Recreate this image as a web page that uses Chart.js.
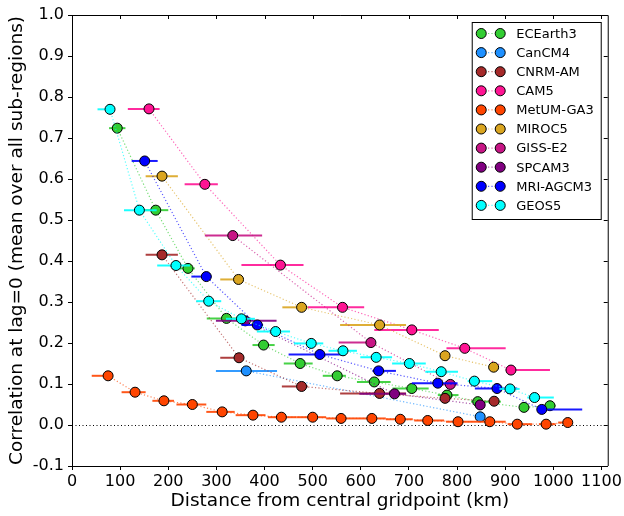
<!DOCTYPE html>
<html>
<head>
<meta charset="utf-8">
<script src="https://cdn.jsdelivr.net/npm/chart.js@4"></script>
<style>
  body { margin: 0; background: #fff; }
  canvas { display: block; }
</style>
</head>
<body>
<canvas id="myChart" width="624" height="516"></canvas>
<script>
const ctx = document.getElementById('myChart').getContext('2d');

const models = ['ECEarth3', 'CanCM4', 'CNRM-AM', 'CAM5', 'MetUM-GA3', 'MIROC5', 'GISS-E2', 'SPCAM3', 'MRI-AGCM3', 'GEOS5'];
const colors = ['#32cd32', '#1e90ff', '#a52a2a', '#ff1493', '#ff4500', '#daa520', '#c71585', '#800080', '#0000ff', '#00ffff'];

const xTicks = [0, 100, 200, 300, 400, 500, 600, 700, 800, 900, 1000, 1100];
const yTicks = [-0.1, 0.0, 0.1, 0.2, 0.3, 0.4, 0.5, 0.6, 0.7, 0.8, 0.9, 1.0];

// distancia media (km), correlacion, y rango de distancias de cada bin
const ecearthDist = [94, 174, 241, 321, 398, 474, 551, 628, 706, 779, 843, 939, 993];
const ecearthCorr = [0.724, 0.524, 0.382, 0.260, 0.195, 0.150, 0.120, 0.105, 0.089, 0.073, 0.057, 0.043, 0.047];
const ecearthLo = [77, 150, 215, 280, 375, 440, 521, 592, 666, 760, 829, 930, 980];
const ecearthHi = [111, 200, 255, 362, 421, 500, 569, 662, 741, 803, 891, 950, 1005];

const cancmDist = [362, 848];
const cancmCorr = [0.132, 0.020];
const cancmLo = [299, 838];
const cancmHi = [426, 858];

const cnrmDist = [187, 347, 477, 639, 775, 877];
const cnrmCorr = [0.415, 0.164, 0.094, 0.077, 0.065, 0.058];
const cnrmLo = [153, 308, 436, 557, 765, 867];
const cnrmHi = [220, 350, 490, 694, 785, 887];

const cam5Dist = [160, 276, 433, 562, 706, 816, 912];
const cam5Corr = [0.771, 0.587, 0.390, 0.287, 0.232, 0.187, 0.134];
const cam5Lo = [116, 234, 352, 490, 628, 778, 901];
const cam5Hi = [182, 303, 481, 607, 762, 901, 993];

const metumDist = [75, 131, 191, 250, 312, 376, 435, 500, 559, 623, 682, 739, 802, 868, 925, 985, 1030];
const metumCorr = [0.120, 0.080, 0.059, 0.050, 0.032, 0.024, 0.019, 0.019, 0.016, 0.016, 0.014, 0.011, 0.008, 0.008, 0.002, 0.002, 0.006];
const metumLo = [41, 103, 167, 217, 279, 340, 407, 466, 528, 590, 652, 711, 777, 839, 905, 970, 1010];
const metumHi = [82, 153, 212, 279, 338, 402, 466, 528, 590, 652, 708, 773, 839, 901, 956, 1005, 1040];

const mirocDist = [187, 346, 477, 639, 775, 876];
const mirocCorr = [0.607, 0.355, 0.287, 0.244, 0.169, 0.141];
const mirocLo = [153, 308, 437, 557, 765, 866];
const mirocHi = [220, 350, 490, 694, 785, 886];

const gissDist = [334, 621, 786];
const gissCorr = [0.462, 0.201, 0.099];
const gissLo = [276, 554, 770];
const gissHi = [395, 625, 800];

const spcamDist = [360, 670, 848];
const spcamCorr = [0.254, 0.076, 0.049];
const spcamLo = [299, 597, 838];
const spcamHi = [425, 694, 858];

const mriDist = [151, 279, 385, 515, 637, 760, 883, 976];
const mriCorr = [0.644, 0.362, 0.244, 0.172, 0.132, 0.102, 0.089, 0.038];
const mriLo = [124, 248, 352, 450, 624, 706, 837, 976];
const mriHi = [178, 290, 397, 566, 673, 801, 925, 1060];

const geosDist = [79, 140, 216, 284, 352, 423, 497, 563, 632, 701, 767, 836, 910, 961];
const geosCorr = [0.770, 0.524, 0.389, 0.302, 0.259, 0.228, 0.199, 0.181, 0.165, 0.150, 0.130, 0.107, 0.088, 0.067];
const geosLo = [53, 108, 177, 258, 320, 384, 461, 533, 599, 665, 734, 822, 888, 946];
const geosHi = [89, 176, 245, 310, 380, 453, 522, 592, 665, 735, 802, 873, 930, 1001];

const allDist = [ecearthDist, cancmDist, cnrmDist, cam5Dist, metumDist, mirocDist, gissDist, spcamDist, mriDist, geosDist];
const allCorr = [ecearthCorr, cancmCorr, cnrmCorr, cam5Corr, metumCorr, mirocCorr, gissCorr, spcamCorr, mriCorr, geosCorr];
const allLo = [ecearthLo, cancmLo, cnrmLo, cam5Lo, metumLo, mirocLo, gissLo, spcamLo, mriLo, geosLo];
const allHi = [ecearthHi, cancmHi, cnrmHi, cam5Hi, metumHi, mirocHi, gissHi, spcamHi, mriHi, geosHi];

const FONT = '"DejaVu Sans", sans-serif';

function withAlpha(hex, a) {
    const n = parseInt(hex.slice(1), 16);
    return 'rgba(' + (n >> 16) + ',' + ((n >> 8) & 255) + ',' + (n & 255) + ',' + a + ')';
}

const datasets = models.map(function(name, i) {
    return {
        label: name,
        data: allDist[i].map(function(d, j) { return { x: d, y: allCorr[i][j] }; }),
        xLo: allLo[i],
        xHi: allHi[i],
        showLine: true,
        borderColor: withAlpha(colors[i], 0.65),
        borderWidth: 1.2,
        borderDash: [1.2, 2.2],
        pointRadius: 5,
        pointBorderWidth: 1,
        pointBorderColor: '#000',
        pointBackgroundColor: colors[i],
        order: models.length - i
    };
});

// barras horizontales (rango de distancias) por debajo de cada serie
const errorBars = {
    id: 'errorBars',
    beforeDatasetDraw(chart, args) {
        const ds = chart.data.datasets[args.index];
        const xs = chart.scales.x, ys = chart.scales.y;
        const c = chart.ctx;
        c.save();
        c.strokeStyle = withAlpha(colors[args.index], 0.9);
        c.lineWidth = 2;
        ds.data.forEach(function(p, j) {
            const py = ys.getPixelForValue(p.y);
            c.beginPath();
            c.moveTo(xs.getPixelForValue(ds.xLo[j]), py);
            c.lineTo(xs.getPixelForValue(ds.xHi[j]), py);
            c.stroke();
        });
        c.restore();
    }
};

// linea en cero, marco superior/derecho y leyenda
const frame = {
    id: 'frame',
    beforeDatasetsDraw(chart) {
        const a = chart.chartArea, c = chart.ctx;
        const y0 = Math.round(chart.scales.y.getPixelForValue(0)) + 0.5;
        c.save();
        c.strokeStyle = '#000';
        c.lineWidth = 1;
        c.setLineDash([1, 2.5]);
        c.beginPath();
        c.moveTo(a.left, y0);
        c.lineTo(a.right, y0);
        c.stroke();
        c.restore();
    },
    afterDraw(chart) {
        const a = chart.chartArea, c = chart.ctx;
        const xs = chart.scales.x, ys = chart.scales.y;
        c.save();
        c.strokeStyle = '#000';
        c.lineWidth = 1;
        c.beginPath();
        c.moveTo(a.left, a.top + 0.5);
        c.lineTo(a.right + 0.5, a.top + 0.5);
        c.lineTo(a.right + 0.5, a.bottom);
        xTicks.forEach(function(v) {
            const px = Math.round(xs.getPixelForValue(v)) + 0.5;
            c.moveTo(px, a.top);
            c.lineTo(px, a.top + 4);
        });
        yTicks.forEach(function(v) {
            const py = Math.round(ys.getPixelForValue(v)) + 0.5;
            c.moveTo(a.right, py);
            c.lineTo(a.right - 4, py);
        });
        c.stroke();

        // leyenda
        const bx = a.right - 135.5, by = a.top + 7.5, bw = 129, bh = 197;
        c.fillStyle = '#fff';
        c.fillRect(bx, by, bw, bh);
        c.strokeRect(bx, by, bw, bh);
        c.font = '13px ' + FONT;
        c.textBaseline = 'middle';
        models.forEach(function(name, i) {
            const ry = by + 11 + i * 19.1;
            const m1 = bx + 9, m2 = bx + 28;
            c.strokeStyle = withAlpha(colors[i], 0.65);
            c.lineWidth = 1.2;
            c.setLineDash([1.2, 2.2]);
            c.beginPath();
            c.moveTo(m1, ry);
            c.lineTo(m2, ry);
            c.stroke();
            c.setLineDash([]);
            [m1, m2].forEach(function(mx) {
                c.beginPath();
                c.arc(mx, ry, 5, 0, Math.PI * 2);
                c.fillStyle = colors[i];
                c.fill();
                c.strokeStyle = '#000';
                c.lineWidth = 1;
                c.stroke();
            });
            c.fillStyle = '#000';
            c.fillText(name, bx + 44, ry + 1);
        });
        c.restore();
    }
};

const chart = new Chart(ctx, {
    type: 'scatter',
    data: { datasets: datasets },
    options: {
        responsive: false,
        animation: false,
        layout: { padding: { top: 15, right: 15, left: 0, bottom: 0 } },
        plugins: { legend: { display: false }, tooltip: { enabled: false } },
        scales: {
            x: {
                type: 'linear',
                min: 0,
                max: 1113,
                afterBuildTicks: function(axis) { axis.ticks = xTicks.map(function(v) { return { value: v }; }); },
                afterFit: function(axis) { axis.height = 50; },
                grid: { drawOnChartArea: false, drawTicks: true, tickLength: 4, color: '#000' },
                border: { display: true, color: '#000', width: 1 },
                ticks: { color: '#000', font: { family: FONT, size: 16 }, padding: 2, maxRotation: 0, autoSkip: false, callback: function(v) { return String(v); } },
                title: { display: true, text: 'Distance from central gridpoint (km)', color: '#000', font: { family: FONT, size: 18.5 }, padding: { top: 0, bottom: 4 } }
            },
            y: {
                type: 'linear',
                min: -0.1,
                max: 1.0,
                afterBuildTicks: function(axis) { axis.ticks = yTicks.map(function(v) { return { value: v }; }); },
                afterFit: function(axis) { axis.width = 72; },
                grid: { drawOnChartArea: false, drawTicks: true, tickLength: 4, color: '#000' },
                border: { display: true, color: '#000', width: 1 },
                ticks: { color: '#000', font: { family: FONT, size: 16 }, padding: 4, autoSkip: false, callback: function(v) { return v.toFixed(1); } },
                title: { display: true, text: 'Correlation at lag=0 (mean over all sub-regions)', color: '#000', font: { family: FONT, size: 18.5 }, padding: { top: 6, bottom: 0 } }
            }
        }
    },
    plugins: [errorBars, frame]
});
</script>
</body>
</html>
